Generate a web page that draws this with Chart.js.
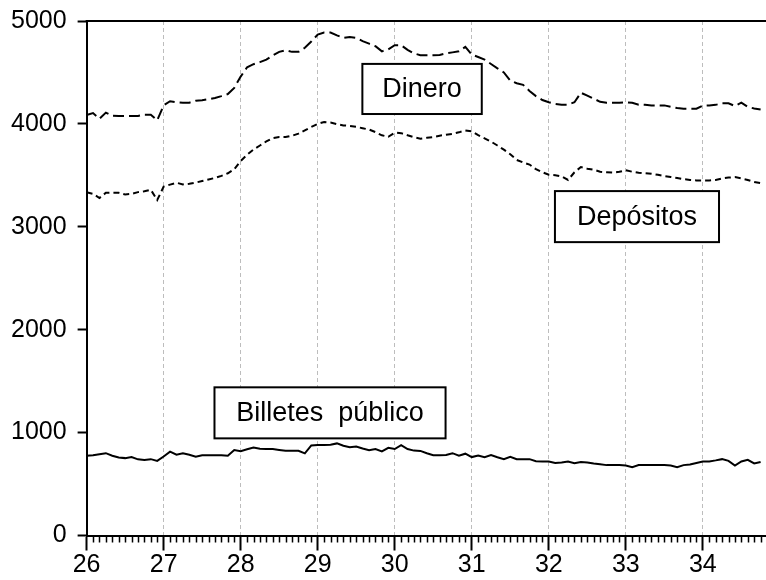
<!DOCTYPE html>
<html>
<head>
  <title>Dinero, depósitos y billetes</title>
  <script src="https://cdn.jsdelivr.net/npm/chart.js"></script>
  <style>
    html, body { margin: 0; padding: 0; background: #fff; }
    #wrap { width: 766px; height: 580px; }
  </style>
</head>
<body>
  <div id="wrap"><canvas id="grafico"></canvas></div>

  <script>
    // Serie mensual, enero 1926 -> octubre 1934
    const inicio = 26;
    const dinero = [
      4087, 4105, 4050, 4110, 4080, 4077, 4077, 4077, 4077, 4090, 4090, 4035,
      4180, 4220, 4210, 4206, 4206, 4225, 4230, 4240, 4252, 4270, 4290, 4350,
      4460, 4550, 4580, 4600, 4625, 4665, 4700, 4716, 4700, 4700, 4740, 4800,
      4868, 4888, 4888, 4860, 4836, 4845, 4836, 4805, 4780, 4755, 4705, 4725,
      4765, 4765, 4720, 4685, 4668, 4667, 4667, 4670, 4685, 4695, 4705, 4748,
      4674, 4650, 4625, 4582, 4540, 4500, 4420, 4395, 4380, 4320, 4270, 4232,
      4210, 4195, 4187, 4187, 4210, 4303, 4275, 4245, 4215, 4206, 4206, 4206,
      4210, 4205, 4187, 4185, 4180, 4180, 4180, 4166, 4155, 4148, 4148, 4148,
      4178, 4180, 4185, 4200, 4200, 4174, 4206, 4165, 4150, 4140
    ];
    const depositos = [
      3335, 3320, 3280, 3330, 3331, 3331, 3315, 3320, 3337, 3345, 3360, 3260,
      3390, 3410, 3428, 3412, 3418, 3430, 3445, 3460, 3475, 3495, 3520, 3560,
      3640, 3700, 3750, 3790, 3830, 3862, 3872, 3872, 3885, 3905, 3938, 3970,
      4000, 4018, 4013, 3998, 3985, 3981, 3972, 3958, 3945, 3920, 3889, 3875,
      3915, 3910, 3889, 3870, 3856, 3865, 3872, 3885, 3895, 3903, 3918, 3937,
      3928, 3890, 3860, 3828, 3790, 3750, 3705, 3650, 3625, 3605, 3560, 3530,
      3506, 3502, 3490, 3455, 3530, 3581, 3565, 3555, 3535, 3530, 3526, 3535,
      3549, 3535, 3525, 3520, 3515, 3505, 3492, 3484, 3475, 3463, 3455, 3451,
      3451, 3451, 3455, 3470, 3478, 3483, 3470, 3455, 3435, 3425
    ];
    const billetes = [
      775, 780, 790, 800, 775, 758, 752, 762, 740, 733, 742, 725,
      768, 815, 785, 798, 785, 765, 780, 781, 781, 781, 775, 830,
      820, 838, 855, 843, 840, 840, 832, 824, 824, 824, 798, 875,
      879, 879, 882, 895, 872, 858, 864, 845, 828, 840, 818, 852,
      840, 878, 840, 825, 822, 800, 781, 781, 782, 800, 776, 795,
      762, 778, 760, 781, 760, 742, 765, 742, 742, 742, 722, 720,
      720, 705, 710, 718, 702, 715, 710, 700, 693, 684, 684, 684,
      680, 663, 684, 684, 684, 684, 684, 680, 663, 684, 690, 705,
      720, 720, 730, 742, 725, 680, 720, 736, 700, 715
    ];
    const anios = [26, 27, 28, 29, 30, 31, 32, 33, 34];
    const yTicks = [0, 1000, 2000, 3000, 4000, 5000];

    const fechas = dinero.map((v, i) => inicio + i / 12);
    const puntos = serie => serie.map((v, i) => ({ x: fechas[i], y: v }));

    // Recuadros de texto (en coordenadas de los ejes)
    const etiquetas = [
      { texto: "Dinero", x0: 29.58, x1: 31.13, y0: 4583, y1: 4096 },
      { texto: "Depósitos", x0: 32.08, x1: 34.21, y0: 3347, y1: 2851 },
      { texto: "Billetes  público", x0: 27.66, x1: 30.66, y0: 1440, y1: 944 }
    ];

    const fuente = "'Liberation Sans', Arial, sans-serif";

    const extras = {
      id: "extras",
      afterDraw(chart) {
        const ctx = chart.ctx;
        const area = chart.chartArea;
        const x = chart.scales.x;
        const y = chart.scales.y;
        ctx.save();
        ctx.strokeStyle = "#000";
        ctx.lineWidth = 2;
        // marco superior
        ctx.beginPath();
        ctx.moveTo(area.left - 1, area.top);
        ctx.lineTo(area.right, area.top);
        ctx.stroke();
        // marcas mensuales
        ctx.beginPath();
        for (let k = 1; k < 106; k++) {
          if (k % 12 === 0) continue;
          const px = Math.round(x.getPixelForValue(inicio + k / 12)) + 0.5;
          if (px > area.right) break;
          ctx.moveTo(px, area.bottom);
          ctx.lineTo(px, area.bottom + 7);
        }
        ctx.lineWidth = 1.5;
        ctx.stroke();
        // recuadros
        ctx.lineWidth = 2;
        ctx.font = "27px " + fuente;
        ctx.textAlign = "center";
        ctx.textBaseline = "middle";
        etiquetas.forEach(e => {
          const l = x.getPixelForValue(e.x0), r = x.getPixelForValue(e.x1);
          const t = y.getPixelForValue(e.y0), b = y.getPixelForValue(e.y1);
          ctx.fillStyle = "#fff";
          ctx.fillRect(l, t, r - l, b - t);
          ctx.strokeRect(l, t, r - l, b - t);
          ctx.fillStyle = "#000";
          ctx.fillText(e.texto, (l + r) / 2, (t + b) / 2 + 1);
        });
        ctx.restore();
      }
    };

    new Chart(document.getElementById("grafico"), {
      type: "line",
      data: {
        datasets: [
          {
            label: "Dinero",
            data: puntos(dinero),
            borderColor: "#000",
            borderWidth: 2,
            borderDash: [11, 5],
            pointRadius: 0,
            fill: false
          },
          {
            label: "Depósitos",
            data: puntos(depositos),
            borderColor: "#000",
            borderWidth: 2,
            borderDash: [6, 4],
            pointRadius: 0,
            fill: false
          },
          {
            label: "Billetes público",
            data: puntos(billetes),
            borderColor: "#000",
            borderWidth: 2,
            pointRadius: 0,
            fill: false
          }
        ]
      },
      options: {
        responsive: true,
        maintainAspectRatio: false,
        animation: false,
        layout: { padding: { top: 21, right: 0, left: 0, bottom: 0 } },
        plugins: {
          legend: { display: false },
          tooltip: { enabled: false }
        },
        scales: {
          x: {
            type: "linear",
            min: 26,
            max: 34.82,
            afterBuildTicks: s => {
              s.ticks = anios.map(v => ({ value: v }));
            },
            afterFit: s => {
              s.paddingLeft = 0;
              s.paddingRight = 0;
            },
            ticks: {
              autoSkip: false,
              maxRotation: 0,
              padding: 1,
              color: "#000",
              font: { family: fuente, size: 25, lineHeight: 1.1 }
            },
            grid: {
              color: "#bdbdbd",
              lineWidth: 1,
              tickLength: 15,
              tickColor: "#000",
              tickWidth: 2,
              tickBorderDash: []
            },
            border: { color: "#000", width: 2, dash: [4, 3] }
          },
          y: {
            min: 0,
            max: 5000,
            afterBuildTicks: s => {
              s.ticks = yTicks.map(v => ({ value: v }));
            },
            afterFit: s => {
              s.paddingTop = 0;
              s.paddingBottom = 0;
            },
            ticks: {
              padding: 11,
              color: "#000",
              font: { family: fuente, size: 25 },
              callback: v => String(v)
            },
            grid: {
              drawOnChartArea: false,
              tickLength: 9,
              tickColor: "#000",
              tickWidth: 2
            },
            border: { color: "#000", width: 2 }
          }
        }
      },
      plugins: [extras]
    });
  </script>
</body>
</html>
